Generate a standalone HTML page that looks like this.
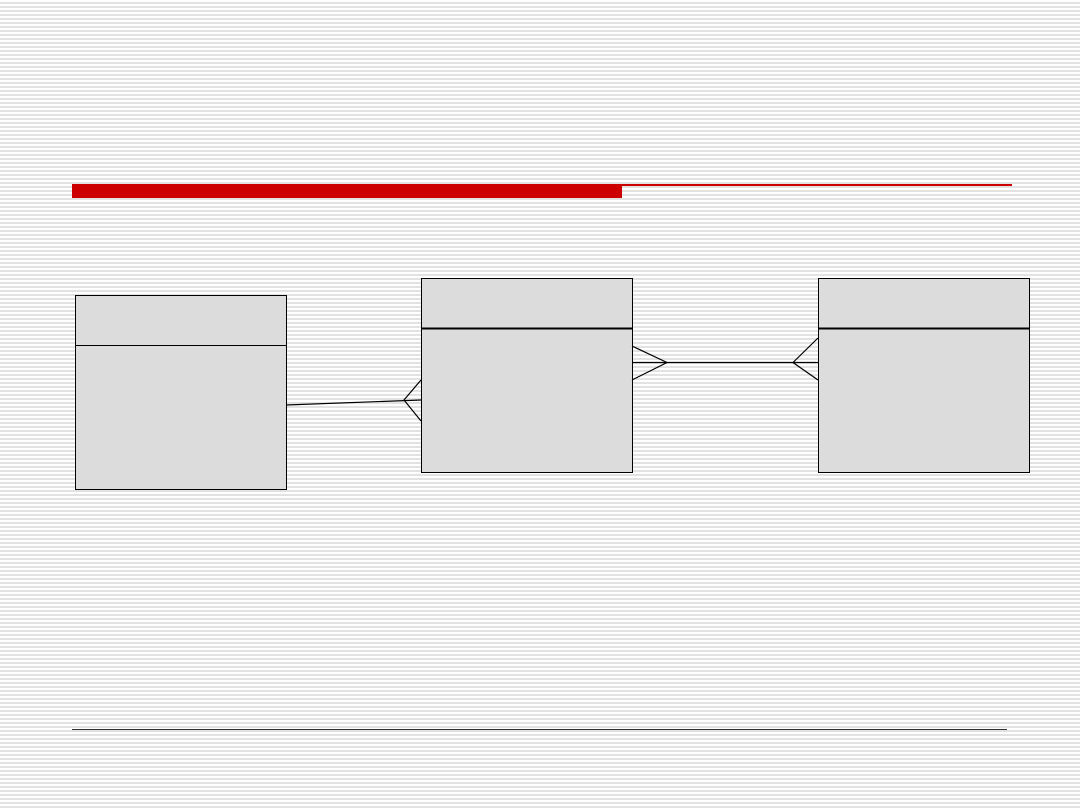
<!DOCTYPE html>
<html><head><style>
body{margin:0;width:1080px;height:810px;overflow:hidden;background:repeating-linear-gradient(to bottom,#fff 0,#fff 2px,#e2e2e2 2px,#e2e2e2 4px);}
</style></head><body>
<svg width="1080" height="810" style="position:absolute;left:0;top:0">
<rect x="72" y="185" width="550" height="13" fill="#cc0000"/>
<rect x="72" y="184" width="940" height="2" fill="#cc0000"/>
<line x1="72" y1="729.5" x2="1007" y2="729.5" stroke="#333" stroke-width="1"/>
<g fill="#dcdcdc" stroke="#000" stroke-width="1">
<rect x="75.5" y="295.5" width="211" height="194"/>
<rect x="421.5" y="278.5" width="211" height="194"/>
<rect x="818.5" y="278.5" width="211" height="194"/>
</g>
<line x1="75" y1="345.5" x2="287" y2="345.5" stroke="#000"/>
<line x1="421" y1="328.5" x2="633" y2="328.5" stroke="#000" stroke-width="2"/>
<line x1="818" y1="328.5" x2="1030" y2="328.5" stroke="#000" stroke-width="2"/>
<g stroke="#000" stroke-width="1.2" fill="none">
<line x1="286" y1="405" x2="421" y2="400"/>
<polyline points="421,380 404,400 421,421"/>
<line x1="632" y1="362.5" x2="818" y2="362.5"/>
<polyline points="632,346 667,362.5 632,380"/>
<polyline points="818,338 793,362.5 818,380"/>
</g>
</svg>
</body></html>
